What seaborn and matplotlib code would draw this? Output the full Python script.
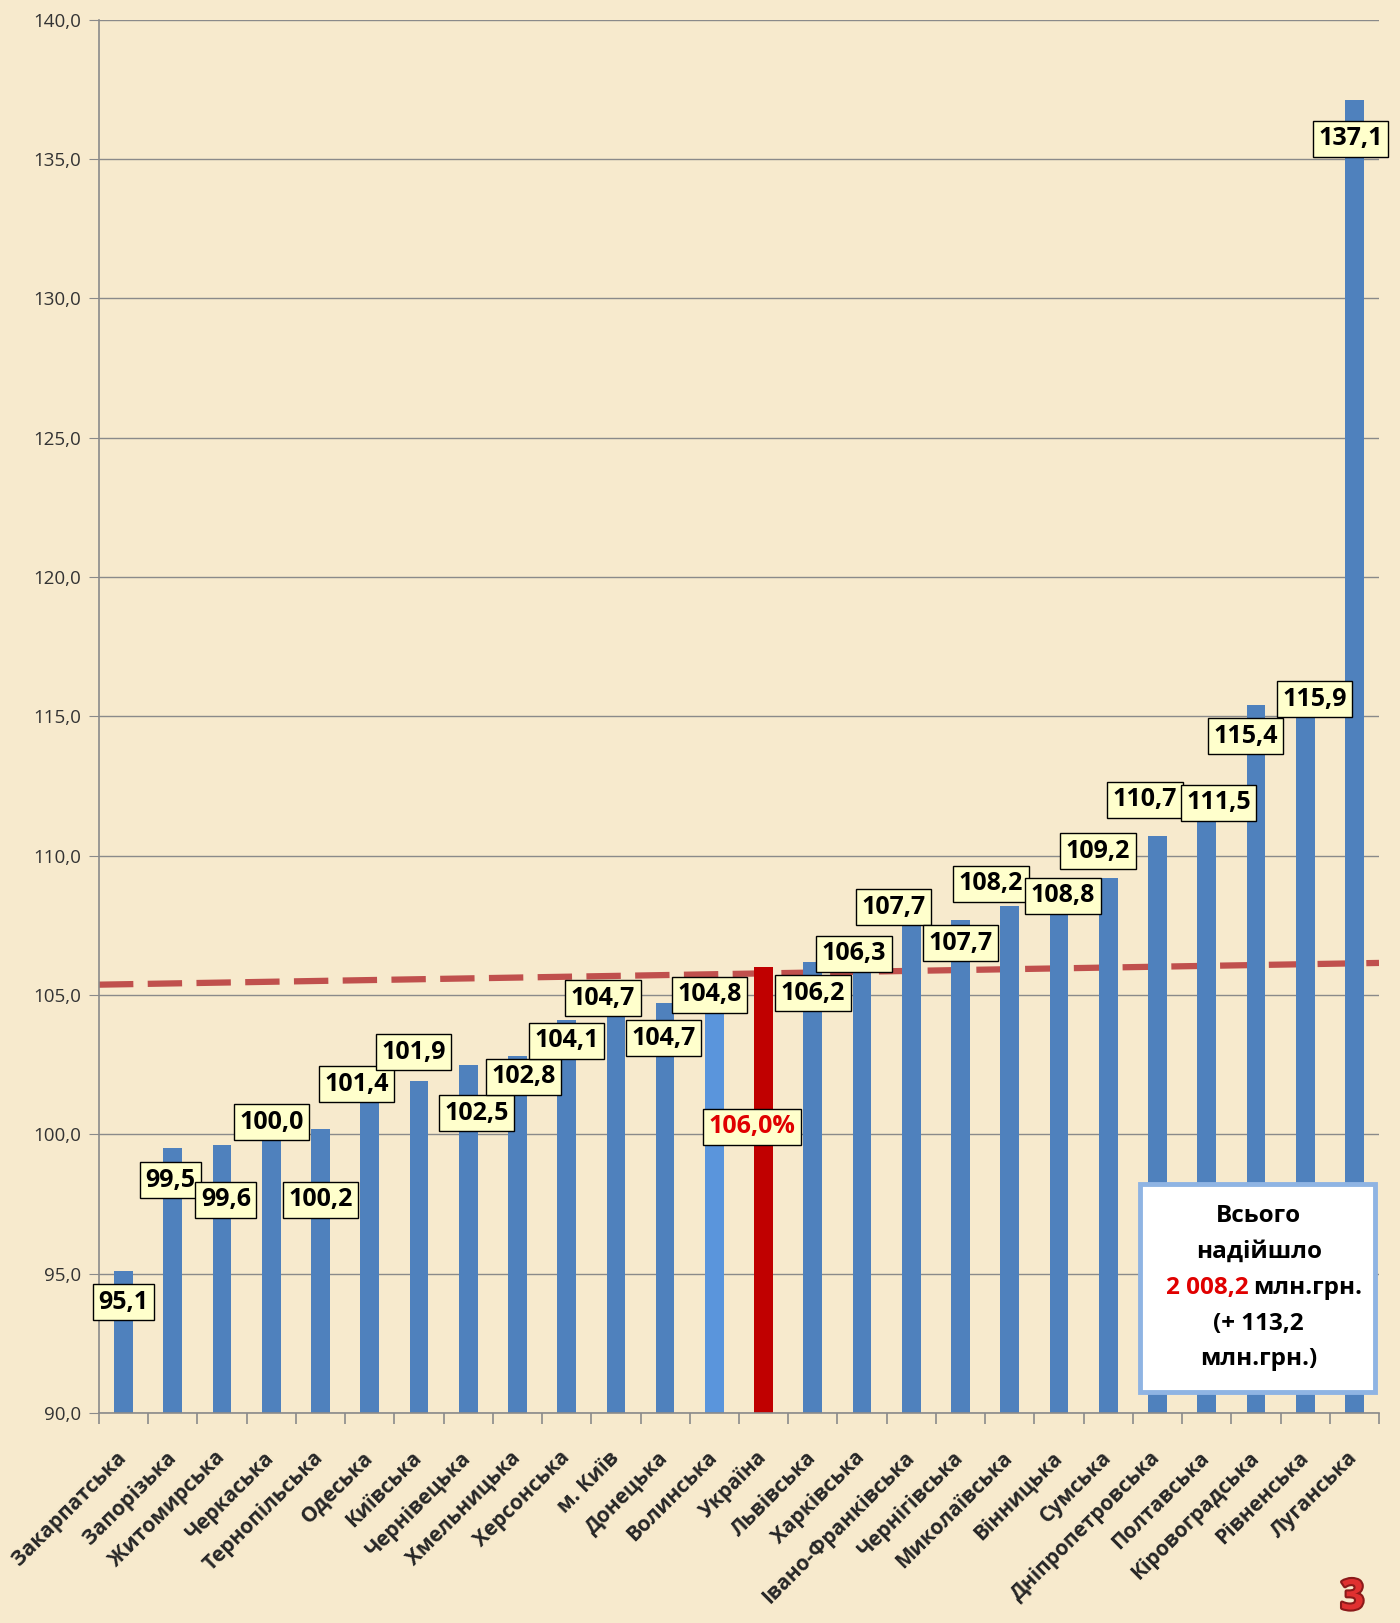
import matplotlib
matplotlib.use("Agg")
import matplotlib.pyplot as plt
import matplotlib.patheffects as pe
from matplotlib.patches import Rectangle
from matplotlib.ticker import FuncFormatter, FixedLocator
import seaborn as sns
import pandas as pd

regions = ["Закарпатська", "Запорізька", "Житомирська", "Черкаська", "Тернопільська",
           "Одеська", "Київська", "Чернівецька", "Хмельницька", "Херсонська",
           "м. Київ", "Донецька", "Волинська", "Україна", "Львівська", "Харківська",
           "Івано-Франківська", "Чернігівська", "Миколаївська", "Вінницька", "Сумська",
           "Дніпропетровська", "Полтавська", "Кіровоградська", "Рівненська", "Луганська"]
values = [95.1, 99.5, 99.6, 100.0, 100.2, 101.4, 101.9, 102.5, 102.8, 104.1,
          104.7, 104.7, 104.8, 106.0, 106.2, 106.3, 107.7, 107.7, 108.2, 108.8,
          109.2, 110.7, 111.5, 115.4, 115.9, 137.1]
trend_start, trend_end = 105.37, 106.15

# label placement (layout only): shift in bar units / value units
label_dx = [0, -0.05, 0.08, 0, 0, -0.27, -0.11, 0.17, 0.12, 0, -0.26, -0.04, -0.1,
            -0.23, 0, -0.16, -0.36, 0, -0.38, 0.08, -0.21, -0.25, 0.24, -0.21, 0.19, -0.08]
label_dy = [-1.13, -1.15, -1.95, 0.43, -2.55, 0.4, 1.05, -1.74, -0.74, -0.74, 0.18, -1.26, 0.2,
            -5.72, -1.13, 0.18, 0.45, -0.85, 0.8, -0.24, 0.96, 1.31, 0.4, -1.12, -0.29, -1.37]

bg = "#f7eacd"
colors = ["#4f81bd"] * len(regions)
colors[regions.index("Волинська")] = "#5a95dc"
colors[regions.index("Україна")] = "#c00000"

sns.set_style("white")
plt.rcParams["font.family"] = ["Open Sans", "DejaVu Sans"]

df = pd.DataFrame({"region": regions, "value": values})

fig = plt.figure(figsize=(14, 16.23), dpi=100, facecolor=bg)
ax = fig.add_axes([0.0707, 0.1294, 0.9143, 0.8585])
ax.set_facecolor(bg)

ax.plot([-0.5, len(regions) - 0.5], [trend_start, trend_end], color="#c0504d",
        lw=4.5, dashes=(5.5, 2.3), zorder=1)
sns.barplot(data=df, x="region", y="value", hue="region", palette=colors,
            legend=False, width=0.38, ax=ax, zorder=2, saturation=1, linewidth=0)

ax.set_ylim(90, 140)
ax.set_xlim(-0.5, len(regions) - 0.5)
ax.set_yticks(range(90, 141, 5))
ax.yaxis.set_major_formatter(FuncFormatter(lambda v, p: f"{v:.1f}".replace(".", ",")))
ax.grid(axis="y", color="#8a8a8a", lw=1, zorder=0)
ax.set_axisbelow(True)
for s in ["top", "right"]:
    ax.spines[s].set_visible(False)
for s in ["left", "bottom"]:
    ax.spines[s].set_color("#8a8a8a")
    ax.spines[s].set_linewidth(1.2)

ax.tick_params(axis="y", left=True, length=7, color="#8a8a8a", labelsize=13.5,
               labelcolor="#333333", pad=6)
ax.set_xlabel("")
ax.set_ylabel("")
ax.set_xticks(range(len(regions)))
ax.set_xticklabels(regions, rotation=45, ha="right", rotation_mode="anchor",
                   fontsize=15, fontweight="bold", va="center")
ax.tick_params(axis="x", length=0, pad=30)
ax.xaxis.set_minor_locator(FixedLocator([i + 0.5 for i in range(-1, len(regions))]))
ax.tick_params(axis="x", which="minor", bottom=True, length=8, color="#8a8a8a", width=1.2)

for i, v in enumerate(values):
    txt = f"{v:.1f}".replace(".", ",")
    col = "black"
    if regions[i] == "Україна":
        txt += "%"
        col = "#e00000"
    ax.text(i + label_dx[i], v + label_dy[i], txt, ha="center", va="center",
            fontsize=18, fontweight="bold", color=col, zorder=5,
            bbox=dict(boxstyle="square,pad=0.22", fc="#ffffcc", ec="black", lw=1))

# summary box
ax.add_patch(Rectangle((0.813, 0.015), 0.184, 0.149, transform=ax.transAxes,
                       fc="white", ec="#8fb4e3", lw=3.5, zorder=6, clip_on=False))
cx = 0.906
box_lines = [("Всього", 0.1415), ("надійшло", 0.1157), (None, 0.0899),
             ("(+ 113,2", 0.0640), ("млн.грн.)", 0.0389)]
for t, y in box_lines:
    if t is None:
        ax.text(0.898, y, "2 008,2", transform=ax.transAxes, ha="right", va="center",
                fontsize=17.5, fontweight="bold", color="#e00000", zorder=7)
        ax.text(0.902, y, "млн.грн.", transform=ax.transAxes, ha="left", va="center",
                fontsize=17.5, fontweight="bold", color="black", zorder=7)
    else:
        ax.text(cx, y, t, transform=ax.transAxes, ha="center", va="center",
                fontsize=17.5, fontweight="bold", color="black", zorder=7)

fig.text(0.966, 0.015, "3", ha="center", va="center", fontsize=30, fontweight="bold",
         color="#e03030", path_effects=[pe.withStroke(linewidth=3, foreground="#8b1a1a")])

fig.savefig("out.png", dpi=100, facecolor=bg)
print("done!")
